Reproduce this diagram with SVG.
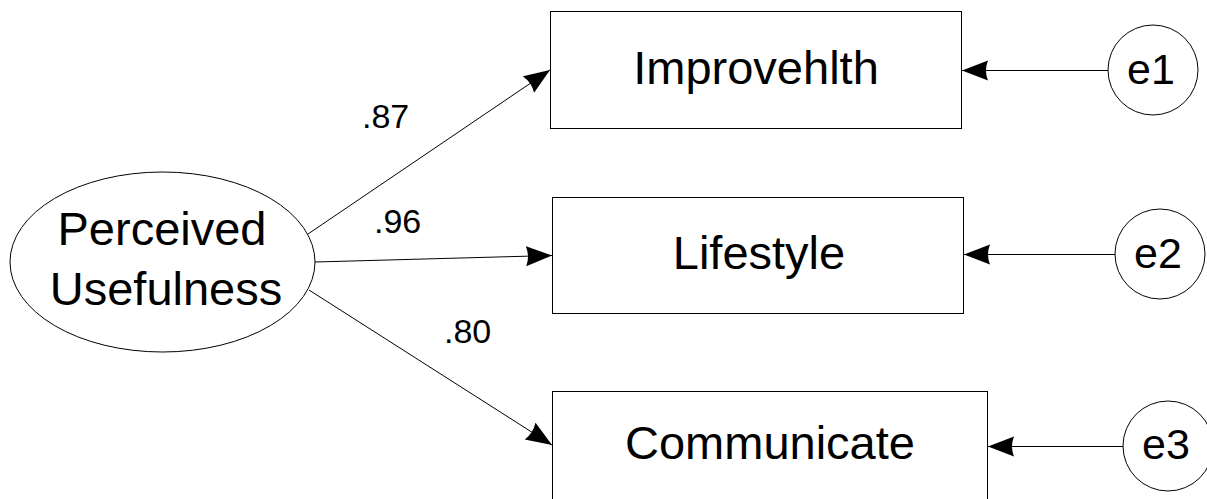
<svg xmlns="http://www.w3.org/2000/svg" width="1207" height="499" viewBox="0 0 1207 499">
  <style>
    .shape { fill: #ffffff; stroke: #000000; stroke-width: 1; }
    .edge { fill: none; stroke: #000000; stroke-width: 1; }
    .lbl { font-family: "Liberation Sans", Arial, sans-serif; fill: #000000; text-anchor: middle; }
    .big { font-size: 47px; }
    .err { font-size: 43px; }
    .w { font-size: 34px; text-anchor: start; }
  </style>
  <defs>
    <marker id="head" markerUnits="userSpaceOnUse" markerWidth="28" markerHeight="22" refX="26" refY="10" orient="auto">
      <path d="M0,0 L26,10 L0,20 Q4,10 0,0 Z" fill="#000000"/>
    </marker>
  </defs>

  <rect width="1207" height="499" fill="#ffffff"/>

  <!-- latent factor -->
  <g id="perceived-usefulness">
    <ellipse class="shape" cx="162.5" cy="262" rx="152.5" ry="90"/>
    <text class="lbl big" x="162" y="245">Perceived</text>
    <text class="lbl big" x="166" y="305">Usefulness</text>
  </g>

  <!-- observed indicators -->
  <g id="improvehlth">
    <rect class="shape" x="550.5" y="11.5" width="411" height="117"/>
    <text class="lbl big" x="756" y="84">Improvehlth</text>
  </g>
  <g id="lifestyle">
    <rect class="shape" x="552.5" y="197.5" width="411" height="116"/>
    <text class="lbl big" x="759" y="269">Lifestyle</text>
  </g>
  <g id="communicate">
    <rect class="shape" x="552.5" y="391.5" width="435" height="130"/>
    <text class="lbl big" x="770" y="459">Communicate</text>
  </g>

  <!-- error terms -->
  <g id="e1">
    <circle class="shape" cx="1153" cy="70" r="45"/>
    <text class="lbl err" x="1151" y="84">e1</text>
  </g>
  <g id="e2">
    <circle class="shape" cx="1160" cy="254" r="45"/>
    <text class="lbl err" x="1158" y="268">e2</text>
  </g>
  <g id="e3">
    <circle class="shape" cx="1168" cy="446" r="45"/>
    <text class="lbl err" x="1166" y="459">e3</text>
  </g>

  <!-- paths -->
  <g id="connectors">
    <line class="edge" x1="308" y1="234" x2="550" y2="70" marker-end="url(#head)"/>
    <line class="edge" x1="315" y1="262" x2="552" y2="255.5" marker-end="url(#head)"/>
    <line class="edge" x1="309" y1="290" x2="552" y2="445" marker-end="url(#head)"/>
    <line class="edge" x1="1108" y1="70.5" x2="962" y2="70.5" marker-end="url(#head)"/>
    <line class="edge" x1="1115" y1="254.5" x2="964" y2="254.5" marker-end="url(#head)"/>
    <line class="edge" x1="1123" y1="446.5" x2="988" y2="446.5" marker-end="url(#head)"/>
  </g>

  <!-- loadings -->
  <g id="loadings">
    <text class="lbl w" x="362" y="128">.87</text>
    <text class="lbl w" x="374" y="233">.96</text>
    <text class="lbl w" x="444" y="343">.80</text>
  </g>
</svg>
